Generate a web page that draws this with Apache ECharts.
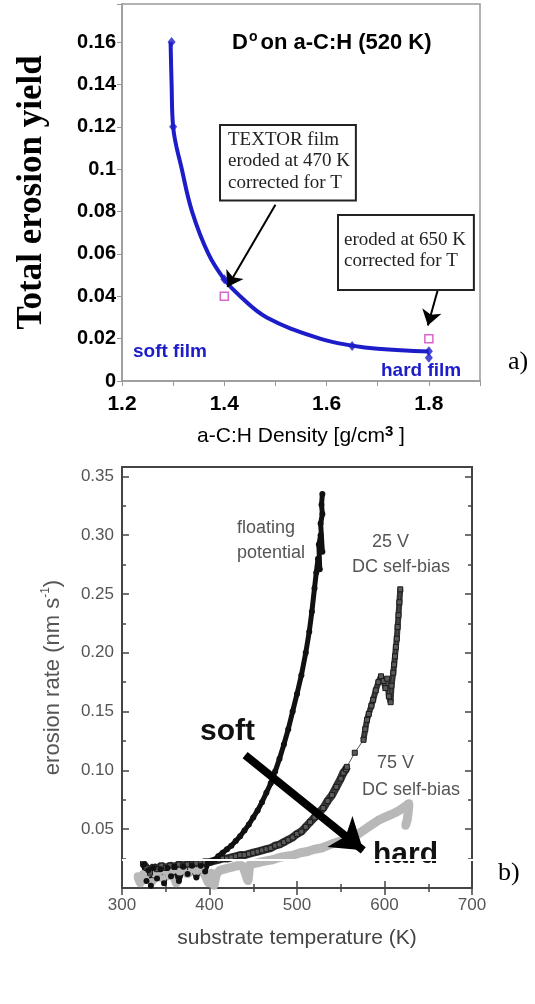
<!DOCTYPE html>
<html>
<head>
<meta charset="utf-8">
<title>erosion yield / erosion rate</title>
<script src="https://cdn.jsdelivr.net/npm/echarts@6.0.0/dist/echarts.min.js"></script>
<style>
html, body { margin: 0; padding: 0; background: #fff; }
#main { width: 535px; height: 1004px; }
</style>
</head>
<body>
<div id="main"></div>
<script>
// a) total erosion yield vs film density
var curveX = [1.295, 1.297, 1.300, 1.317, 1.337, 1.369, 1.400, 1.431, 1.483, 1.587, 1.650, 1.700, 1.800];
var curveY = [0.160, 0.140, 0.120, 0.100, 0.080, 0.060, 0.048, 0.040, 0.030, 0.020, 0.0167, 0.0152, 0.0139];
var measX = [1.297, 1.300, 1.400, 1.650, 1.800, 1.800];
var measY = [0.160, 0.120, 0.048, 0.0165, 0.014, 0.011];
var corrX = [1.40, 1.80];
var corrY = [0.040, 0.020];
var densityLabels = [1.2, 1.4, 1.6, 1.8];
var yieldLabels = [0, 0.02, 0.04, 0.06, 0.08, 0.1, 0.12, 0.14, 0.16];

// b) erosion rate vs substrate temperature  [T (K), rate (nm/s)]
var floatingPot = [[325,0.020],[328,0.006],[330,0.015],[333,0.002],[336,0.017],[340,0.008],[344,0.016],[348,0.004],[352,0.017],[356,0.010],[360,0.018],[365,0.006],[370,0.018],[375,0.012],[380,0.019],[385,0.009],[390,0.019],[395,0.014],[398,0.021],[402,0.022],[406,0.024],[410,0.027],[415,0.030],[420,0.033],[425,0.036],[430,0.040],[435,0.044],[440,0.049],[445,0.054],[450,0.060],[455,0.066],[460,0.073],[465,0.081],[470,0.089],[475,0.099],[480,0.110],[485,0.122],[490,0.135],[495,0.150],[500,0.165],[505,0.181],[510,0.200],[514,0.218],[517,0.235],[520,0.255],[522,0.268],[524,0.280],[526,0.271],[525,0.292],[527,0.300],[529,0.286],[527,0.310],[529,0.318],[528,0.326],[529,0.335]];
var bias25 = [[324,0.021],[328,0.017],[332,0.013],[336,0.018],[340,0.016],[345,0.019],[350,0.017],[355,0.019],[360,0.018],[365,0.020],[370,0.019],[375,0.020],[380,0.020],[385,0.021],[390,0.021],[395,0.022],[400,0.022],[405,0.023],[410,0.024],[415,0.025],[420,0.025],[425,0.026],[430,0.027],[435,0.028],[440,0.028],[445,0.029],[450,0.030],[455,0.031],[460,0.032],[465,0.033],[470,0.034],[475,0.036],[480,0.037],[485,0.039],[490,0.041],[495,0.043],[500,0.046],[505,0.048],[510,0.052],[515,0.056],[520,0.060],[525,0.064],[530,0.068],[535,0.074],[540,0.079],[545,0.086],[550,0.093],[553,0.098],[556,0.101],[557,0.103],[566,0.115],[576,0.126],[578,0.135],[580,0.143],[582,0.148],[585,0.155],[587,0.160],[590,0.168],[593,0.175],[596,0.180],[599,0.176],[601,0.170],[603,0.178],[605,0.163],[607,0.158],[608,0.172],[610,0.183],[611,0.190],[612,0.197],[613,0.205],[614,0.212],[615,0.222],[616,0.232],[617,0.243],[618,0.254]];
var bias75 = [[318,0.010],[321,0.004],[324,0.012],[327,0.007],[330,0.013],[334,0.005],[338,0.012],[342,0.014],[346,0.008],[350,0.014],[354,0.010],[358,0.015],[362,0.004],[366,0.014],[370,0.015],[375,0.012],[380,0.016],[385,0.014],[390,0.016],[395,0.011],[399,0.004],[402,0.013],[405,0.002],[408,0.012],[412,0.015],[417,0.016],[422,0.017],[427,0.018],[432,0.019],[438,0.019],[444,0.006],[446,0.020],[452,0.021],[458,0.022],[465,0.023],[472,0.024],[480,0.026],[488,0.027],[496,0.028],[504,0.030],[512,0.031],[520,0.033],[528,0.034],[535,0.036],[542,0.038],[550,0.040],[557,0.042],[564,0.044],[570,0.046],[576,0.049],[582,0.052],[588,0.055],[594,0.058],[600,0.060],[606,0.062],[612,0.064],[617,0.066],[621,0.068],[625,0.070],[628,0.072],[627,0.064],[626,0.058],[624,0.053]];
var tempLabels = [300, 400, 500, 600, 700];
var rateLabels = [0.05, 0.10, 0.15, 0.20, 0.25, 0.30, 0.35];

var SANS = 'Liberation Sans, Arial, sans-serif';
var SERIF = 'Liberation Serif, Times New Roman, serif';
var BLUE = '#1c1cc8';

function pick(list, v) {
	for (var i = 0; i < list.length; i++) {
		if (Math.abs(list[i] - v) < 1e-6) return true;
	}
	return false;
}
function zip(xs, ys) {
	return xs.map(function (x, i) { return [x, ys[i]]; });
}

var myChart = echarts.init(document.getElementById('main'), null, { renderer: 'canvas' });

var option = {
	animation: false,
	backgroundColor: '#fff',
	title: {
		text: '{a|D}{b|o}{a|on a-C:H (520 K)}',
		left: 227, top: 25,
		textStyle: {
			rich: {
				a: { fontFamily: SANS, fontWeight: 'bold', fontSize: 22, color: '#000', lineHeight: 26 },
				b: { fontFamily: SANS, fontWeight: 'bold', fontSize: 14, color: '#000', lineHeight: 26, verticalAlign: 'top', padding: [0, 3, 0, 1] }
			}
		}
	},
	grid: [
		{ left: 122, top: 4, width: 358, height: 377, show: true, borderColor: '#999', borderWidth: 1.5, outerBoundsMode: 'none' },
		{ left: 122, top: 467, width: 350, height: 421, show: true, borderColor: '#444', borderWidth: 2, outerBoundsMode: 'none' }
	],
	xAxis: [
		{
			gridIndex: 0, type: 'value', min: 1.2, max: 1.9, interval: 0.1,
			axisLine: { lineStyle: { color: '#999', width: 1.5 } },
			axisTick: { length: 5, lineStyle: { color: '#999' } },
			splitLine: { show: false },
			axisLabel: {
				margin: 13, color: '#000', fontFamily: SANS, fontWeight: 'bold', fontSize: 21,
				formatter: function (v) { return pick(densityLabels, v) ? String(+v.toFixed(1)) : ''; }
			},
			name: '{a|a-C:H Density [g/cm}{b|3}{a| ]}',
			nameLocation: 'middle', nameGap: 43,
			nameTextStyle: {
				rich: {
					a: { fontFamily: SANS, fontSize: 21, color: '#000', lineHeight: 24 },
					b: { fontFamily: SANS, fontSize: 15, fontWeight: 'bold', color: '#000', lineHeight: 24, verticalAlign: 'top' }
				}
			}
		},
		{
			gridIndex: 1, type: 'value', min: 300, max: 700, interval: 100,
			axisLine: { lineStyle: { color: '#444', width: 2 } },
			axisTick: { inside: true, length: 7, lineStyle: { color: '#444', width: 1.5 } },
			minorTick: { show: true, splitNumber: 2, length: 4, lineStyle: { color: '#444', width: 1.5 } },
			splitLine: { show: false },
			axisLabel: {
				margin: 9, color: '#555', fontFamily: SANS, fontSize: 17,
				formatter: function (v) { return pick(tempLabels, v) ? String(v) : ''; }
			},
			name: 'substrate temperature (K)',
			nameLocation: 'middle', nameGap: 40,
			nameTextStyle: { fontFamily: SANS, fontSize: 21, color: '#444' }
		},
		{
			gridIndex: 1, type: 'value', position: 'top', min: 300, max: 700, interval: 100,
			axisLine: { lineStyle: { color: '#444', width: 2 } },
			axisTick: { inside: true, length: 7, lineStyle: { color: '#444', width: 1.5 } },
			minorTick: { show: true, splitNumber: 2, length: 4, lineStyle: { color: '#444', width: 1.5 } },
			splitLine: { show: false },
			axisLabel: { show: false }
		}
	],
	yAxis: [
		{
			gridIndex: 0, type: 'value', min: 0, max: 0.178, interval: 0.02,
			axisLine: { show: true, lineStyle: { color: '#999', width: 1.5 } },
			axisTick: { show: true, length: 5, lineStyle: { color: '#999' } },
			splitLine: { show: false },
			axisLabel: {
				margin: 6, color: '#000', fontFamily: SANS, fontWeight: 'bold', fontSize: 20,
				formatter: function (v) { return pick(yieldLabels, v) ? String(+v.toFixed(2)) : ''; }
			},
			name: 'Total erosion yield',
			nameLocation: 'middle', nameGap: 73,
			nameTextStyle: { fontFamily: SERIF, fontWeight: 'bold', fontSize: 35, color: '#000' }
		},
		{
			gridIndex: 1, type: 'value', min: 0, max: 0.358, interval: 0.05,
			axisLine: { show: true, lineStyle: { color: '#444', width: 2 } },
			axisTick: { show: true, inside: true, length: 7, lineStyle: { color: '#444', width: 1.5 } },
			minorTick: { show: true, splitNumber: 2, length: 4, lineStyle: { color: '#444', width: 1.5 } },
			splitLine: { show: false },
			axisLabel: {
				margin: 8, color: '#555', fontFamily: SANS, fontSize: 17,
				formatter: function (v) { return pick(rateLabels, v) ? v.toFixed(2) : ''; }
			},
			name: '{a|erosion rate (nm s}{b|-1}{a|)}',
			nameLocation: 'middle', nameGap: 56,
			nameTextStyle: {
				rich: {
					a: { fontFamily: SANS, fontSize: 22, color: '#555', lineHeight: 26 },
					b: { fontFamily: SANS, fontSize: 12, color: '#555', lineHeight: 26, verticalAlign: 'top' }
				}
			}
		},
		{
			gridIndex: 1, type: 'value', position: 'right', min: 0, max: 0.358, interval: 0.05,
			axisLine: { show: true, lineStyle: { color: '#444', width: 2 } },
			axisTick: { show: true, inside: true, length: 7, lineStyle: { color: '#444', width: 1.5 } },
			minorTick: { show: true, splitNumber: 2, length: 4, lineStyle: { color: '#444', width: 1.5 } },
			splitLine: { show: false },
			axisLabel: { show: false }
		}
	],
	series: [
		{
			name: 'fit', type: 'line', xAxisIndex: 0, yAxisIndex: 0,
			data: zip(curveX, curveY), smooth: 0.4, showSymbol: false,
			lineStyle: { color: BLUE, width: 4 }, silent: true,
			markLine: {
				silent: true, symbol: ['none', 'arrow'], symbolSize: 15,
				label: { show: false },
				lineStyle: { color: '#000', width: 2, type: 'solid' },
				data: [
					[{ coord: [1.500, 0.0832] }, { coord: [1.406, 0.0444] }],
					[{ coord: [1.817, 0.0426] }, { coord: [1.798, 0.0262] }]
				]
			}
		},
		{
			name: 'measured', type: 'scatter', xAxisIndex: 0, yAxisIndex: 0,
			data: zip(measX, measY), symbol: 'diamond', symbolSize: [8, 10],
			itemStyle: { color: BLUE }, silent: true
		},
		{
			name: 'corrected for T', type: 'scatter', xAxisIndex: 0, yAxisIndex: 0,
			data: zip(corrX, corrY), symbol: 'rect', symbolSize: 8,
			itemStyle: { color: '#fff', borderColor: '#d040c0', borderWidth: 1.5 }, silent: true
		},
		{
			name: '75 V', type: 'line', xAxisIndex: 1, yAxisIndex: 1,
			data: bias75, symbol: 'circle', symbolSize: 8,
			lineStyle: { color: '#b8b8b8', width: 9 },
			itemStyle: { color: '#b8b8b8' }, silent: true
		},
		{
			name: '25 V band low', type: 'line', xAxisIndex: 1, yAxisIndex: 1,
			data: bias25.filter(function (p) { return p[0] <= 557; }), showSymbol: false,
			lineStyle: { color: '#333', width: 8 }, silent: true
		},
		{
			name: '25 V band high', type: 'line', xAxisIndex: 1, yAxisIndex: 1,
			data: bias25.filter(function (p) { return p[0] >= 576; }), showSymbol: false,
			lineStyle: { color: '#333', width: 6 }, silent: true
		},
		{
			name: '25 V', type: 'line', xAxisIndex: 1, yAxisIndex: 1,
			data: bias25, symbol: 'rect', symbolSize: 5,
			lineStyle: { color: '#555', width: 1 },
			itemStyle: { color: '#5a5a5a', borderColor: '#1a1a1a', borderWidth: 1 }, silent: true
		},
		{
			name: 'floating potential', type: 'line', xAxisIndex: 1, yAxisIndex: 1,
			data: floatingPot, symbol: 'circle', symbolSize: 6,
			lineStyle: { color: '#111', width: 5 },
			itemStyle: { color: '#111' }, silent: true,
			markLine: {
				silent: true, symbol: ['none', 'arrow'], symbolSize: 30,
				label: { show: false },
				lineStyle: { color: '#000', width: 8, type: 'solid' },
				data: [[{ coord: [440.7, 0.113] }, { coord: [575.7, 0.032] }]]
			}
		}
	],
	graphic: [
		{ type: 'text', x: 221, y: 126, z: 50, style: {
			text: 'TEXTOR film\neroded at 470 K\ncorrected for T',
			font: '19px ' + SERIF, fill: '#222', lineHeight: 21.5,
			padding: [3, 5, 6, 7], borderColor: '#222', borderWidth: 2, backgroundColor: '#fff'
		} },
		{ type: 'text', x: 339, y: 216, z: 50, style: {
			text: 'eroded at 650 K\ncorrected for T',
			font: '19px ' + SERIF, fill: '#222', lineHeight: 21.5,
			padding: [13, 7, 17, 5], borderColor: '#222', borderWidth: 2, backgroundColor: '#fff'
		} },
		{ type: 'text', x: 133, y: 352, style: { text: 'soft film', font: 'bold 19px ' + SANS, fill: BLUE, verticalAlign: 'middle', textVerticalAlign: 'middle' } },
		{ type: 'text', x: 381, y: 371, style: { text: 'hard film', font: 'bold 19px ' + SANS, fill: BLUE, verticalAlign: 'middle', textVerticalAlign: 'middle' } },
		{ type: 'text', x: 508, y: 362, style: { text: 'a)', font: '26px ' + SERIF, fill: '#000', verticalAlign: 'middle', textVerticalAlign: 'middle' } },
		{ type: 'text', x: 498, y: 873, style: { text: 'b)', font: '26px ' + SERIF, fill: '#000', verticalAlign: 'middle', textVerticalAlign: 'middle' } },
		{ type: 'text', x: 237, y: 528, style: { text: 'floating', font: '18px ' + SANS, fill: '#555', verticalAlign: 'middle', textVerticalAlign: 'middle' } },
		{ type: 'text', x: 237, y: 553, style: { text: 'potential', font: '18px ' + SANS, fill: '#555', verticalAlign: 'middle', textVerticalAlign: 'middle' } },
		{ type: 'text', x: 372, y: 542, style: { text: '25 V', font: '18px ' + SANS, fill: '#555', verticalAlign: 'middle', textVerticalAlign: 'middle' } },
		{ type: 'text', x: 352, y: 567, style: { text: 'DC self-bias', font: '18px ' + SANS, fill: '#555', verticalAlign: 'middle', textVerticalAlign: 'middle' } },
		{ type: 'text', x: 377, y: 763, style: { text: '75 V', font: '18px ' + SANS, fill: '#555', verticalAlign: 'middle', textVerticalAlign: 'middle' } },
		{ type: 'text', x: 362, y: 790, style: { text: 'DC self-bias', font: '18px ' + SANS, fill: '#555', verticalAlign: 'middle', textVerticalAlign: 'middle' } },
		{ type: 'text', x: 200, y: 732, z: 100, style: { text: 'soft', font: 'bold 30px ' + SANS, fill: '#111', verticalAlign: 'middle', textVerticalAlign: 'middle' } },
		{ type: 'text', x: 373, y: 855, z: 100, style: { text: 'hard', font: 'bold 30px ' + SANS, fill: '#111', verticalAlign: 'middle', textVerticalAlign: 'middle' } },
		// white scan line that runs across the lower panel
		{ type: 'line', z: 200, shape: { x1: 122, y1: 860, x2: 474, y2: 860 }, style: { stroke: '#fff', lineWidth: 2 } }
	]
};

myChart.setOption(option);
</script>
</body>
</html>
